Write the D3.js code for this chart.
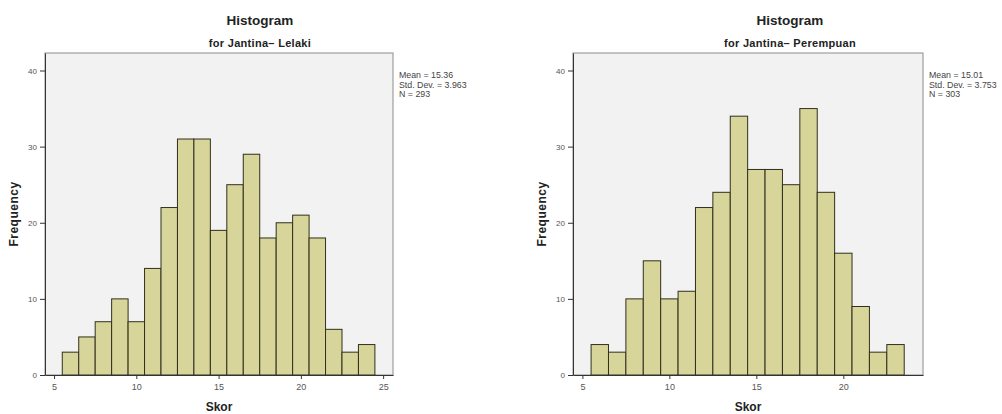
<!DOCTYPE html>
<html>
<head>
    <script type="text/javascript" src="https://d3js.org/d3.v7.min.js"></script>
    <style>
        body { margin: 0; background: #ffffff; }
        svg { display: block; font-family: "Liberation Sans", Arial, sans-serif; }
    </style>
</head>
<body>
    <svg width="1002" height="414"></svg>
    <script>
        // bin centres (score) and frequency per bin
        const lelakiBins = [6, 7, 8, 9, 10, 11, 12, 13, 14, 15, 16, 17, 18, 19, 20, 21, 22, 23, 24];
        const lelakiFreq = [3, 5, 7, 10, 7, 14, 22, 31, 31, 19, 25, 29, 18, 20, 21, 18, 6, 3, 4];
        const perempuanBins = [6, 7, 8, 9, 10, 11, 12, 13, 14, 15, 16, 17, 18, 19, 20, 21, 22, 23];
        const perempuanFreq = [4, 3, 10, 15, 10, 11, 22, 24, 34, 27, 27, 25, 35, 24, 16, 9, 3, 4];

        const yTicks = [0, 10, 20, 30, 40];
        const xTicksLelaki = [5, 10, 15, 20, 25];
        const xTicksPerempuan = [5, 10, 15, 20];

        const statsLelaki = ["Mean = 15.36", "Std. Dev. = 3.963", "N = 293"];
        const statsPerempuan = ["Mean = 15.01", "Std. Dev. = 3.753", "N = 303"];

        const svg = d3.select("svg");

        // draw one SPSS style histogram panel
        function histogram(opts) {
            const g = svg.append("g");
            const x = d3.scaleLinear().domain(opts.xDomain).range([opts.left, opts.right]);
            const y = d3.scaleLinear().domain([0, 42.3]).range([375, 53]);
            const data = opts.bins.map((b, i) => ({ bin: b, freq: opts.freq[i] }));

            // plot background
            g.append("rect")
                .attr("x", opts.left).attr("y", 53)
                .attr("width", opts.right - opts.left).attr("height", 322)
                .attr("fill", "#f2f2f2")
                .attr("stroke", "#8c8c8c")
                .attr("stroke-width", 1);

            // bars
            g.selectAll("rect.bar")
                .data(data)
                .enter()
                .append("rect")
                .attr("class", "bar")
                .attr("x", d => x(d.bin - 0.5))
                .attr("width", d => x(d.bin + 0.5) - x(d.bin - 0.5))
                .attr("y", d => y(d.freq))
                .attr("height", d => y(0) - y(d.freq))
                .attr("fill", "#d8d59b")
                .attr("stroke", "#30301c")
                .attr("stroke-width", 1);

            // y axis
            const yAxis = g.append("g")
                .attr("transform", `translate(${opts.left},0)`)
                .call(d3.axisLeft(y).tickValues(yTicks).tickSize(5).tickSizeOuter(0));
            yAxis.select(".domain").attr("stroke", "#333");
            yAxis.selectAll("line").attr("stroke", "#333");
            yAxis.selectAll("text").attr("font-size", 8).attr("fill", "#555");

            // x axis
            const xAxis = g.append("g")
                .attr("transform", "translate(0,375)")
                .call(d3.axisBottom(x).tickValues(opts.xTicks).tickSize(4).tickSizeOuter(0));
            xAxis.select(".domain").attr("stroke", "#333");
            xAxis.selectAll("line").attr("stroke", "#333");
            xAxis.selectAll("text").attr("font-size", 9).attr("fill", "#555").attr("dy", "0.9em");

            // titles
            g.append("text")
                .attr("x", opts.titleX).attr("y", 25)
                .attr("text-anchor", "middle")
                .attr("font-size", 13.5).attr("font-weight", "bold").attr("fill", "#222")
                .text("Histogram");
            g.append("text")
                .attr("x", opts.titleX).attr("y", 47)
                .attr("text-anchor", "middle")
                .attr("font-size", 11).attr("font-weight", "bold").attr("fill", "#222")
                .attr("letter-spacing", 0.3)
                .text(opts.subtitle);

            // axis labels
            g.append("text")
                .attr("transform", `translate(${opts.left - 27},214) rotate(-90)`)
                .attr("text-anchor", "middle")
                .attr("font-size", 12).attr("font-weight", "bold").attr("fill", "#222")
                .attr("letter-spacing", 0.5)
                .text("Frequency");
            g.append("text")
                .attr("x", (opts.left + opts.right) / 2).attr("y", 411)
                .attr("text-anchor", "middle")
                .attr("font-size", 12).attr("font-weight", "bold").attr("fill", "#222")
                .text("Skor");

            // stats box
            g.selectAll("text.stat")
                .data(opts.stats)
                .enter()
                .append("text")
                .attr("class", "stat")
                .attr("x", opts.right + 6)
                .attr("y", (d, i) => 78 + i * 9.5)
                .attr("font-size", 8.8).attr("fill", "#444")
                .text(d => d);
        }

        histogram({
            bins: lelakiBins, freq: lelakiFreq, xDomain: [4.45, 25.6], xTicks: xTicksLelaki,
            left: 45, right: 393, titleX: 260, subtitle: "for Jantina\u2013 Lelaki", stats: statsLelaki
        });
        histogram({
            bins: perempuanBins, freq: perempuanFreq, xDomain: [4.46, 24.58], xTicks: xTicksPerempuan,
            left: 573, right: 923, titleX: 790, subtitle: "for Jantina\u2013 Perempuan", stats: statsPerempuan
        });
    </script>
</body>
</html>
